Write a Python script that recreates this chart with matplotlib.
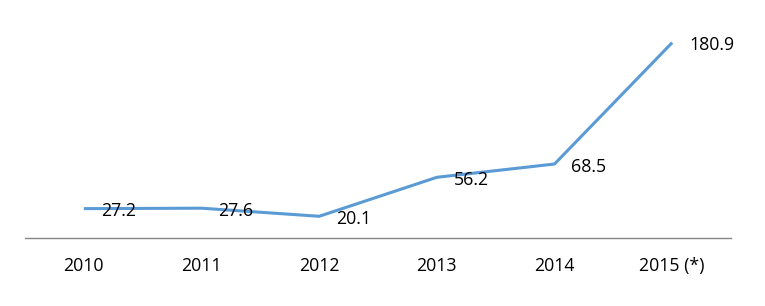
import matplotlib
matplotlib.use("Agg")
import matplotlib.pyplot as plt

categories = ["2010", "2011", "2012", "2013", "2014", "2015 (*)"]
values = [27.2, 27.6, 20.1, 56.2, 68.5, 180.9]
labels = ["27.2", "27.6", "20.1", "56.2", "68.5", "180.9"]

plt.rcParams['font.family'] = ['Open Sans', 'DejaVu Sans']

fig = plt.figure(figsize=(7.65, 3.06), dpi=100)
ax = fig.add_axes([25/765, (306-238)/306, 706/765, 216/306])
x = list(range(len(categories)))
ax.plot(x, values, color="#5B9BD5", lw=2.2, solid_capstyle="butt")
for xi, v, lab in zip(x, values, labels):
    ax.annotate(lab, (xi, v), xytext=(12.2, -1.8), textcoords="offset points",
                ha="left", va="center", fontsize=12.8, color="black")
ax.set_xlim(-0.5, len(categories) - 0.5)
ax.set_ylim(0, 200)
ax.set_xticks(x)
ax.set_xticklabels(categories, fontsize=12.8)
ax.tick_params(axis="x", length=0, pad=14)
ax.set_yticks([])
for s in ["top", "left", "right"]:
    ax.spines[s].set_visible(False)
ax.spines["bottom"].set_color("#868686")
ax.spines["bottom"].set_linewidth(1.0)
fig.savefig("out.png", dpi=100)
